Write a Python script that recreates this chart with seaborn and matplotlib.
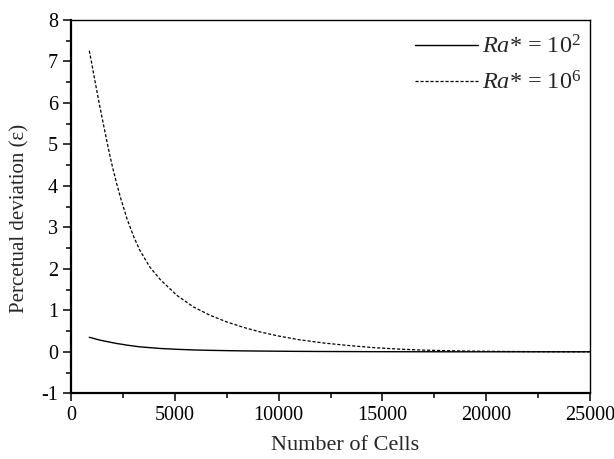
import matplotlib
matplotlib.use("Agg")
import matplotlib.pyplot as plt
from matplotlib.ticker import MultipleLocator
import numpy as np
import pandas as pd
import seaborn as sns

# values
cells = [880, 1000, 1100, 1250, 1400, 1550, 1700, 1850, 2000, 2200, 2400,
         2700, 3000, 3300, 3800, 4300, 5100, 5900, 6700, 7500, 8300, 9100,
         10000, 11000, 12200, 13400, 14600, 15800, 17000, 18300, 19500,
         21000, 23000, 25000]
dev_ra2 = [0.35, 0.335, 0.32, 0.30, 0.28, 0.265, 0.25, 0.235, 0.22, 0.20, 0.185,
           0.16, 0.14, 0.12, 0.10, 0.08, 0.06, 0.045, 0.035, 0.028, 0.022, 0.018,
           0.014, 0.010, 0.007, 0.005, 0.003, 0.002, 0.001, 0.0, 0.0,
           0.0, 0.0, 0.0]
dev_ra6 = [7.26, 6.94, 6.67, 6.27, 5.88, 5.51, 5.14, 4.78, 4.45, 4.05, 3.69,
           3.20, 2.80, 2.46, 2.04, 1.74, 1.36, 1.08, 0.88, 0.72, 0.59, 0.48,
           0.38, 0.29, 0.21, 0.15, 0.10, 0.065, 0.04, 0.025, 0.015,
           0.008, 0.003, 0.0]

sns.set_style("ticks")
plt.rcParams['font.family'] = ['Liberation Serif', 'DejaVu Serif']
plt.rcParams['mathtext.fontset'] = 'custom'
plt.rcParams['mathtext.rm'] = 'Liberation Serif'
plt.rcParams['mathtext.it'] = 'Liberation Serif:italic'
plt.rcParams['axes.unicode_minus'] = False

fig = plt.figure(figsize=(6.14, 4.59), dpi=100)
ax = fig.add_axes([0.1157, 0.1432, 0.8453, 0.8132])

df = pd.DataFrame({'cells': cells, 'ra2': dev_ra2, 'ra6': dev_ra6})
sns.lineplot(data=df, x='cells', y='ra2', ax=ax, color='black', lw=1.0,
             label=r'$\mathit{Ra}$* = 10$^2$')
sns.lineplot(data=df, x='cells', y='ra6', ax=ax, color='black', lw=0.9,
             linestyle=(0, (2.5, 1.5)), label=r'$\mathit{Ra}$* = 10$^6$')

ax.set_xlim(0, 25000)
ax.set_ylim(-1, 8)
ax.xaxis.set_major_locator(MultipleLocator(5000))
ax.xaxis.set_minor_locator(MultipleLocator(2500))
ax.yaxis.set_major_locator(MultipleLocator(1))
ax.yaxis.set_minor_locator(MultipleLocator(0.5))
ax.tick_params(which='major', direction='out', length=6, width=1.1, labelsize=14.5,
               colors='black', pad=3.5)
ax.tick_params(which='minor', direction='out', length=3.6, width=1.1, colors='black')
for s in ax.spines.values():
    s.set_visible(True)
    s.set_color('black')
    s.set_linewidth(1.0)
ax.spines['left'].set_linewidth(1.6)
ax.spines['bottom'].set_linewidth(1.6)

ax.set_xlabel('Number of Cells', fontsize=16)
ax.set_ylabel('Percetual deviation (ε)', fontsize=15)
ax.xaxis.set_label_coords(0.528, -0.115)
ax.yaxis.set_label_coords(-0.08, 0.469)

leg = ax.legend(loc='upper right', bbox_to_anchor=(1.0, 0.981), frameon=False,
                fontsize=17.5, handlelength=2.6, handletextpad=0.15,
                labelspacing=0.5, borderaxespad=0.15, borderpad=0.2)

fig.savefig('out.png', dpi=100)
